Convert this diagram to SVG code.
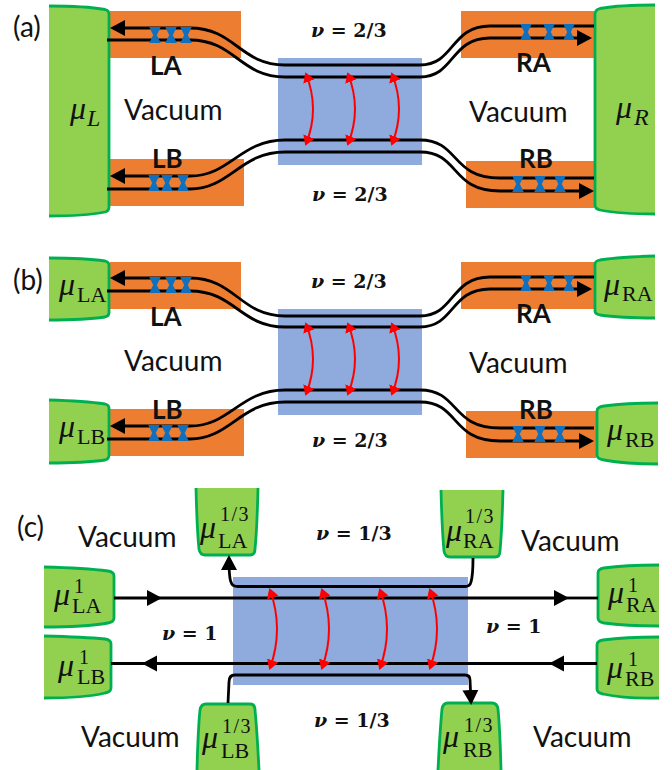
<svg xmlns="http://www.w3.org/2000/svg" width="672" height="770" viewBox="0 0 672 770">
<style>
.contact{fill:#92D050;stroke:#00B050;stroke-width:2.8}
.orange{fill:#ED7D31}
.blue{fill:#8FAADC}
.wire{fill:none;stroke:#000;stroke-width:2.8}
.red{fill:none;stroke:#FF0000;stroke-width:2}
.lbl{font-family:"Lato","Carlito",sans-serif;font-size:28px;fill:#111}
.bold{font-family:"Lato","Carlito",sans-serif;font-size:26px;font-weight:700;fill:#111}
.nu{font-family:"DejaVu Serif","Liberation Serif",serif;font-size:19px;font-weight:700;fill:#111}
.nu .v{font-style:italic}
.mu{font-family:"Liberation Serif",serif;font-size:32px;font-style:italic;fill:#111}
.sub{font-size:22px;font-style:normal}
.subi{font-size:24px;font-style:italic}
.sup{font-size:20px;font-style:normal;letter-spacing:1.5px}
</style>
<defs>
<marker id="ah" markerUnits="userSpaceOnUse" markerWidth="17" markerHeight="18" refX="12" refY="9" orient="auto" viewBox="0 0 17 18"><path d="M0,1 L15,9 L0,17 Z" fill="#000"/></marker>
<marker id="rh" markerUnits="userSpaceOnUse" markerWidth="11" markerHeight="13" refX="8" refY="6.500" orient="auto-start-reverse" viewBox="0 0 11 13"><path d="M0,0.500 L10,6.500 L0,12.500 Z" fill="#FF0000"/></marker>
<path id="hg" d="M-5.800,-8 L5.800,-8 L1.800,0 L5.800,8 L-5.800,8 L-1.800,0 Z" fill="#1070BE"/>
</defs>

<g id="regions">
<rect class="orange" x="110" y="11" width="131" height="47"/>
<rect class="orange" x="110" y="159" width="134" height="47"/>
<rect class="orange" x="461" y="11" width="133" height="47"/>
<rect class="orange" x="466" y="161" width="128" height="47"/>
<rect class="blue" x="278" y="58" width="144" height="107"/>
<rect class="orange" x="110" y="262" width="131" height="47"/>
<rect class="orange" x="110" y="409" width="134" height="47"/>
<rect class="orange" x="461" y="262" width="133" height="47"/>
<rect class="orange" x="466" y="411" width="130" height="47"/>
<rect class="blue" x="278" y="309" width="144" height="106"/>
<rect class="blue" x="233" y="577" width="235" height="108"/>
</g>

<g id="node-a-L"><path class="contact" d="M49,6 Q85,6 105,9.500 Q109,10.500 109,14 L109,207 Q109,211 105,212 Q85,216 49,216 "/><text class="mu" x="70" y="119">μ<tspan class="subi" x="87" y="126">L</tspan></text></g>
<g id="node-a-R"><path class="contact" d="M655,5 Q620,5 600,8.500 Q595,10 595,14 L595,205 Q595,209 600,210 Q620,214 655,214"/><text class="mu" x="616" y="118">μ<tspan class="subi" x="634" y="125">R</tspan></text></g>
<g id="node-b-LA"><path class="contact" d="M49,258 Q85,258 105,261 Q109,262 109,265 L109,313 Q109,316 105,317 Q85,320 49,320"/><text class="mu" x="59" y="295">μ<tspan class="sub" x="77" y="302">LA</tspan></text></g>
<g id="node-b-LB"><path class="contact" d="M49,400 Q85,401 105,404 Q109,405 109,408 L109,455 Q109,459 105,460 Q85,463 49,463"/><text class="mu" x="59" y="437">μ<tspan class="sub" x="77" y="444">LB</tspan></text></g>
<g id="node-b-RA"><path class="contact" d="M655,256 Q620,257 600,260 Q595,261 595,264 L595,311 Q595,314 600,315 Q620,318 655,318"/><text class="mu" x="604" y="295">μ<tspan class="sub" x="622" y="301">RA</tspan></text></g>
<g id="node-b-RB"><path class="contact" d="M658,403 Q625,403 604,406 Q597,407 597,411 L597,455 Q597,459 604,460 Q625,464 658,464"/><text class="mu" x="607" y="440">μ<tspan class="sub" x="625" y="447">RB</tspan></text></g>

<g id="node-c-LA13"><path class="contact" d="M196,488 Q197,530 199,549 Q200,555 205,555 L250,555 Q255,555 255,549 Q257,530 258,488"/><text class="mu" x="200" y="538">μ<tspan class="sup" x="220" y="521">1/3</tspan><tspan class="sub" x="218" y="548">LA</tspan></text></g>
<g id="node-c-RA13"><path class="contact" d="M441,490 Q442,530 444,551 Q445,557 450,557 L495,557 Q500,557 500,551 Q502,530 503,490"/><text class="mu" x="446" y="541">μ<tspan class="sup" x="465" y="523">1/3</tspan><tspan class="sub" x="463" y="548">RA</tspan></text></g>
<g id="node-c-LB13"><path class="contact" d="M197,770 Q198,730 200,710 Q201,704 206,704 L250,704 Q255,704 255,710 Q257,730 259,770"/><text class="mu" x="202" y="748">μ<tspan class="sup" x="222" y="733">1/3</tspan><tspan class="sub" x="221" y="758">LB</tspan></text></g>
<g id="node-c-RB1-3"><path class="contact" d="M438,770 Q440,730 442,709 Q443,703 448,703 L492,703 Q497,703 498,709 Q500,730 501,770"/><text class="mu" x="443" y="747">μ<tspan class="sup" x="464" y="732">1/3</tspan><tspan class="sub" x="463" y="757">RB</tspan></text></g>
<g id="node-c-LA1"><path class="contact" d="M44,567 Q85,568 108,571 Q114,572 114,576 L114,618 Q114,622 108,623 Q85,627 44,627"/><text class="mu" x="54" y="605">μ<tspan class="sup" x="74" y="593">1</tspan><tspan class="sub" x="72" y="613">LA</tspan></text></g>
<g id="node-c-LB1"><path class="contact" d="M44,636 Q85,637 105,639 Q111,640 111,644 L111,688 Q111,692 105,693 Q85,698 44,698"/><text class="mu" x="58" y="676">μ<tspan class="sup" x="79" y="664">1</tspan><tspan class="sub" x="77" y="684">LB</tspan></text></g>
<g id="node-c-RA1"><path class="contact" d="M659,565 Q625,565 604,568 Q598,569 598,573 L598,618 Q598,622 604,623 Q625,626 659,626"/><text class="mu" x="608" y="603">μ<tspan class="sup" x="628" y="592">1</tspan><tspan class="sub" x="626" y="612">RA</tspan></text></g>
<g id="node-c-RB1"><path class="contact" d="M659,637 Q625,637 603,640 Q597,641 597,645 L597,689 Q597,693 603,694 Q625,699 659,698"/><text class="mu" x="607" y="678">μ<tspan class="sup" x="628" y="666">1</tspan><tspan class="sub" x="625" y="686">RB</tspan></text></g>

<g id="connectors">
<g id="wires-a">
<path class="wire" d="M190,28 L113,28" marker-end="url(#ah)"/>
<path class="wire" d="M190,28 C235,28 240,65 285,65 L420,65 C455,65 450,26 490,26 L594,26"/>
<path class="wire" d="M107,40 L190,40 C235,40 240,77 285,77 L420,77 C455,77 450,38 490,38 L589,38" marker-end="url(#ah)"/>
<path class="wire" d="M190,176 L113,176" marker-end="url(#ah)"/>
<path class="wire" d="M190,176 C230,176 240,140 285,140 L420,140 C460,140 450,178 500,178 L594,178"/>
<path class="wire" d="M107,189 L190,189 C230,189 240,152 285,152 L420,152 C460,152 450,191 500,191 L591,191" marker-end="url(#ah)"/>
</g>
<g id="wires-b">
<path class="wire" d="M190,278 L113,278" marker-end="url(#ah)"/>
<path class="wire" d="M190,278 C235,278 240,316 285,316 L420,316 C455,316 450,277 490,277 L594,277"/>
<path class="wire" d="M107,291 L190,291 C235,291 240,327 285,327 L420,327 C455,327 450,289 490,289 L589,289" marker-end="url(#ah)"/>
<path class="wire" d="M190,426 L113,426" marker-end="url(#ah)"/>
<path class="wire" d="M190,426 C230,426 240,390 285,390 L420,390 C460,390 450,428 500,428 L594,428"/>
<path class="wire" d="M107,439 L190,439 C230,439 240,402 285,402 L420,402 C460,402 450,441 500,441 L591,441" marker-end="url(#ah)"/>
</g>
<g id="wires-c">
<path class="wire" d="M114,598 H159" marker-end="url(#ah)"/>
<path class="wire" d="M159,598 H566" marker-end="url(#ah)"/>
<path class="wire" d="M566,598 H598"/>
<path class="wire" d="M597,663.500 H552" marker-end="url(#ah)"/>
<path class="wire" d="M552,663.500 H145" marker-end="url(#ah)"/>
<path class="wire" d="M145,663.500 H111"/>
<path class="wire" d="M473,558 Q473,575 471,582 Q470,586.500 465,586.500 L238,586.500 Q232,586.500 231,582 Q229,578 229,558" marker-end="url(#ah)"/>
<path class="wire" d="M228,703 L229,682 Q229,675 235,675 L465,675 Q470,675 470,680 L471,702" marker-end="url(#ah)"/>
</g>
<g id="tunnel-ab">
<path class="red" d="M306,74 Q320,109 306,144" marker-start="url(#rh)" marker-end="url(#rh)"/>
<path class="red" d="M348,74 Q362,109 348,144" marker-start="url(#rh)" marker-end="url(#rh)"/>
<path class="red" d="M392,74 Q406,109 392,144" marker-start="url(#rh)" marker-end="url(#rh)"/>
<path class="red" d="M306,324 Q320,359 306,394" marker-start="url(#rh)" marker-end="url(#rh)"/>
<path class="red" d="M348,324 Q362,359 348,394" marker-start="url(#rh)" marker-end="url(#rh)"/>
<path class="red" d="M392,324 Q406,359 392,394" marker-start="url(#rh)" marker-end="url(#rh)"/>
</g>
<g id="tunnel-c">
<path class="red" d="M270,590 Q284,629 270,668" marker-start="url(#rh)" marker-end="url(#rh)"/>
<path class="red" d="M322,590 Q336,629 322,668" marker-start="url(#rh)" marker-end="url(#rh)"/>
<path class="red" d="M380,590 Q394,629 380,668" marker-start="url(#rh)" marker-end="url(#rh)"/>
<path class="red" d="M430,590 Q444,629 430,668" marker-start="url(#rh)" marker-end="url(#rh)"/>
</g>
<g id="scatterers">
<use href="#hg" x="155" y="35"/><use href="#hg" x="171" y="35"/><use href="#hg" x="186" y="35"/>
<use href="#hg" x="526" y="32"/><use href="#hg" x="549" y="32"/><use href="#hg" x="569" y="32"/>
<use href="#hg" x="154" y="183"/><use href="#hg" x="167" y="183"/><use href="#hg" x="183" y="183"/>
<use href="#hg" x="518" y="184"/><use href="#hg" x="540" y="184"/><use href="#hg" x="560" y="184"/>
<use href="#hg" x="155" y="285"/><use href="#hg" x="171" y="285"/><use href="#hg" x="186" y="285"/>
<use href="#hg" x="526" y="283"/><use href="#hg" x="549" y="283"/><use href="#hg" x="569" y="283"/>
<use href="#hg" x="154" y="433"/><use href="#hg" x="167" y="433"/><use href="#hg" x="183" y="433"/>
<use href="#hg" x="518" y="434"/><use href="#hg" x="540" y="434"/><use href="#hg" x="560" y="434"/>
</g>
</g>

<g id="labels">
<text class="lbl" x="13" y="37">(a)</text>
<text class="lbl" x="13" y="290">(b)</text>
<text class="lbl" x="17" y="537">(c)</text>
<text class="bold" x="150" y="75">LA</text>
<text class="bold" x="152" y="168">LB</text>
<text class="bold" x="516" y="72">RA</text>
<text class="bold" x="519" y="168">RB</text>
<text class="bold" x="150" y="326">LA</text>
<text class="bold" x="152" y="419">LB</text>
<text class="bold" x="516" y="323">RA</text>
<text class="bold" x="519" y="419">RB</text>
<text class="lbl" x="124" y="120">Vacuum</text>
<text class="lbl" x="469" y="122">Vacuum</text>
<text class="lbl" x="124" y="371">Vacuum</text>
<text class="lbl" x="469" y="373">Vacuum</text>
<text class="lbl" x="78" y="547">Vacuum</text>
<text class="lbl" x="521" y="551">Vacuum</text>
<text class="lbl" x="81" y="747">Vacuum</text>
<text class="lbl" x="533" y="747">Vacuum</text>
<text class="nu" x="311" y="37"><tspan class="v">ν</tspan> = 2/3</text>
<text class="nu" x="312" y="201"><tspan class="v">ν</tspan> = 2/3</text>
<text class="nu" x="311" y="288"><tspan class="v">ν</tspan> = 2/3</text>
<text class="nu" x="312" y="447"><tspan class="v">ν</tspan> = 2/3</text>
<text class="nu" x="316" y="540"><tspan class="v">ν</tspan> = 1/3</text>
<text class="nu" x="314" y="727"><tspan class="v">ν</tspan> = 1/3</text>
<text class="nu" x="162" y="640"><tspan class="v">ν</tspan> = 1</text>
<text class="nu" x="486" y="633"><tspan class="v">ν</tspan> = 1</text>
</g>
</svg>
